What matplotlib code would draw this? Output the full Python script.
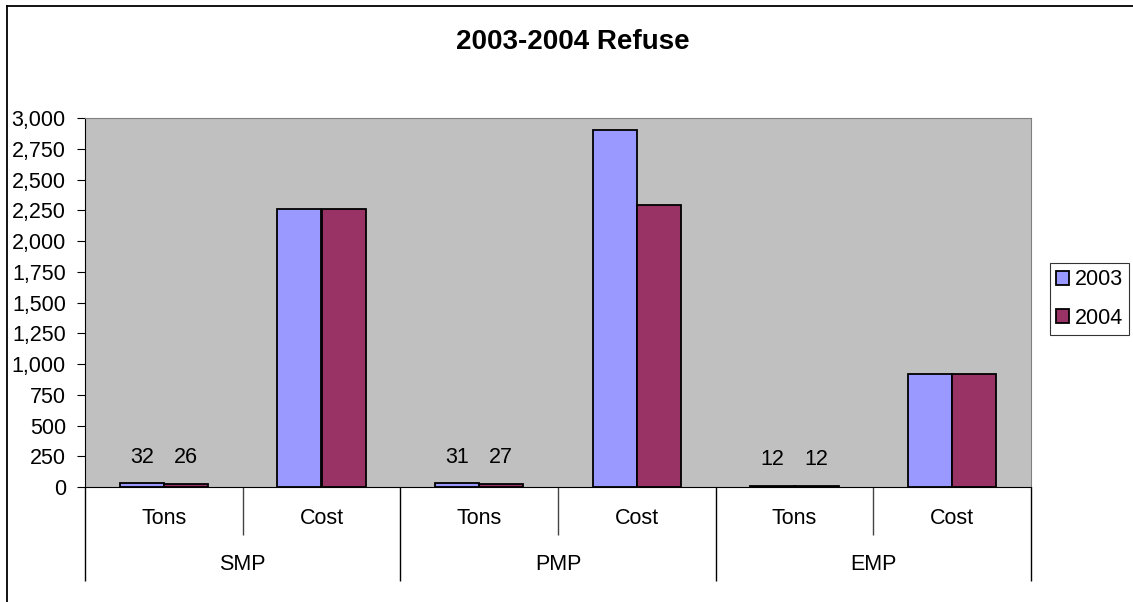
import numpy as np
import matplotlib.pyplot as plt
from matplotlib.lines import Line2D
from matplotlib.ticker import FuncFormatter

plt.rcParams['font.family'] = ['Liberation Sans', 'DejaVu Sans']

groups = ['SMP', 'PMP', 'EMP']
subcats = ['Tons', 'Cost']
years = ['2003', '2004']
vals_2003 = [32, 2260, 31, 2900, 12, 920]
vals_2004 = [26, 2260, 27, 2290, 12, 920]
colors = ['#9999FF', '#993366']

fs = 15.5

fig = plt.figure(figsize=(11.33, 6.02), dpi=100)
ax = fig.add_axes([85/1133, 115/602, (1031-85)/1133, (487-118)/602])
ax.set_facecolor('#C0C0C0')

x = np.arange(len(vals_2003))
w = 0.28
b1 = ax.bar(x - w/2, vals_2003, w, color=colors[0], edgecolor='black', linewidth=1.3, label=years[0])
b2 = ax.bar(x + w/2, vals_2004, w, color=colors[1], edgecolor='black', linewidth=1.3, label=years[1])

# data labels only on the Tons bars
for bars, vals in [(b1, vals_2003), (b2, vals_2004)]:
    for i, (rect, v) in enumerate(zip(bars, vals)):
        if subcats[i % 2] == 'Tons':
            ax.annotate(str(v), (rect.get_x() + rect.get_width()/2, v),
                        xytext=(0, 26), textcoords='offset pixels',
                        ha='center', va='center', fontsize=fs)

ax.set_xlim(-0.5, len(x) - 0.5)
ax.set_ylim(0, 3000)
ax.set_yticks(np.arange(0, 3001, 250))
ax.yaxis.set_major_formatter(FuncFormatter(lambda v, p: '{:,.0f}'.format(v)))
ax.tick_params(axis='y', direction='out', length=5.8, labelsize=fs, pad=8)

# hierarchical category axis
ax.set_xticks([0.5, 2.5, 4.5])
ax.set_xticklabels([])
ax.tick_params(axis='x', which='major', direction='out', length=34.5, width=1, color='#444444')
ax.set_xticks([-0.5, 1.5, 3.5, 5.5], minor=True)
ax.tick_params(axis='x', which='minor', direction='out', length=68, width=1, color='black')

trans = ax.get_xaxis_transform()
for i in x:
    ax.text(i, -31/369, subcats[i % 2], transform=trans, ha='center', va='center', fontsize=fs)
for j, g in enumerate(groups):
    ax.text(2*j + 0.5, -78/369, g, transform=trans, ha='center', va='center', fontsize=fs)

ax.spines['top'].set_color('#808080')
ax.spines['right'].set_color('#808080')
ax.spines['left'].set_color('black')
ax.spines['bottom'].set_color('black')

fig.text(573/1133, 1 - 42/602, '2003-2004 Refuse', fontsize=20, fontweight='bold',
         ha='center', va='center')

leg = ax.legend(loc='upper left', bbox_to_anchor=(1050/1133, 1 - 263/602), bbox_transform=fig.transFigure,
                frameon=True, fancybox=False, edgecolor='black', fontsize=fs,
                handlelength=0.6, handleheight=0.6, handletextpad=0.25, labelspacing=0.8,
                borderpad=0.3, borderaxespad=0)
leg.get_frame().set_linewidth(0.8)

# outer chart border (cropped)
fig.add_artist(Line2D([7/1133, 7/1133], [0, 1 - 6/602], color='black', lw=1.3))
fig.add_artist(Line2D([7/1133, 1], [1 - 6/602, 1 - 6/602], color='black', lw=1.3))

plt.savefig('out.png', dpi=100)
